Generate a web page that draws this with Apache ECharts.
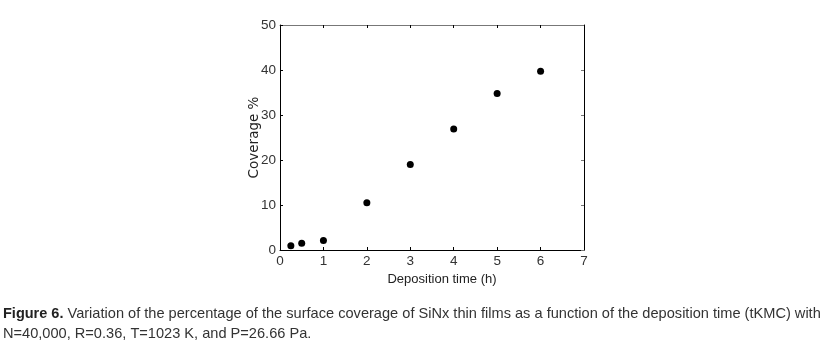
<!DOCTYPE html>
<html>
<head>
<meta charset="utf-8">
<script src="https://cdn.jsdelivr.net/npm/echarts@6/dist/echarts.min.js"></script>
<style>
html,body{margin:0;padding:0;background:#fff;}
#chart{width:827px;height:349px;}
</style>
</head>
<body>
<div id="chart"></div>
<script>
const timeHours = [0.25, 0.5, 1, 2, 3, 4, 5, 6];
const coveragePct = [0.95, 1.5, 2.1, 10.5, 19.0, 26.9, 34.8, 39.7];
const xTicks = [0, 1, 2, 3, 4, 5, 6, 7];
const yTicks = [0, 10, 20, 30, 40, 50];
const xTitle = 'Deposition time (h)';
const yTitle = 'Coverage %';
const captionBold = 'Figure 6.';
const captionLine1 = ' Variation of the percentage of the surface coverage of SiNx thin films as a function of the deposition time (tKMC) with';
const captionLine2 = 'N=40,000, R=0.36, T=1023 K, and P=26.66 Pa.';

const chart = echarts.init(document.getElementById('chart'), null, {renderer: 'canvas'});
const labelFont = {color: '#333', fontSize: 13.5, fontFamily: 'Liberation Sans, Arial'};
const xMin = xTicks[0], xMax = xTicks[xTicks.length - 1];
const yMin = yTicks[0], yMax = yTicks[yTicks.length - 1];

chart.setOption({
  animation: false,
  backgroundColor: '#fff',
  grid: {left: 280, right: 243, top: 25, bottom: 99, containLabel: false},
  xAxis: [{
    type: 'value', min: xMin, max: xMax, interval: 1, position: 'bottom',
    axisLine: {show: true, onZero: false, lineStyle: {color: '#000', width: 1}},
    axisTick: {show: true, inside: true, length: 3, lineStyle: {color: '#000'}},
    axisLabel: Object.assign({margin: 4}, labelFont),
    splitLine: {show: false},
    name: xTitle, nameLocation: 'middle', nameGap: 20,
    nameTextStyle: {color: '#222', fontSize: 13, fontFamily: 'Liberation Sans, Arial', padding: [0, 0, 0, 20]}
  }, {
    type: 'value', min: xMin, max: xMax, interval: 1, position: 'top',
    axisLine: {show: true, onZero: false, lineStyle: {color: '#777', width: 1}},
    axisTick: {show: true, inside: true, length: 3, lineStyle: {color: '#000'}},
    axisLabel: {show: false}, splitLine: {show: false}
  }],
  yAxis: [{
    type: 'value', min: yMin, max: yMax, interval: 10, position: 'left',
    axisLine: {show: true, onZero: false, lineStyle: {color: '#000', width: 1}},
    axisTick: {show: true, inside: true, length: 3, lineStyle: {color: '#000'}},
    axisLabel: Object.assign({margin: 4}, labelFont),
    splitLine: {show: false},
    name: yTitle, nameLocation: 'middle', nameGap: 19, nameMoveOverlap: false,
    nameTextStyle: {color: '#222', fontSize: 13.5, fontFamily: 'DejaVu Sans, Arial'}
  }, {
    type: 'value', min: yMin, max: yMax, interval: 10, position: 'right',
    axisLine: {show: true, onZero: false, lineStyle: {color: '#000', width: 1}},
    axisTick: {show: true, inside: true, length: 3, lineStyle: {color: '#777'}},
    axisLabel: {show: false}, splitLine: {show: false}
  }],
  series: [{
    type: 'scatter',
    xAxisIndex: 0, yAxisIndex: 0,
    data: timeHours.map((t, i) => [t, coveragePct[i]]),
    symbol: 'circle', symbolSize: 7,
    itemStyle: {color: '#000', opacity: 1}
  }],
  graphic: [{
    type: 'text', left: 3, top: 306,
    style: {
      text: '{b|' + captionBold + '}{n|' + captionLine1 + '}',
      rich: {
        b: {fontWeight: 'bold', fontSize: 14.5, fontFamily: 'Liberation Sans, Arial', fill: '#222'},
        n: {fontSize: 14.6, fontFamily: 'Liberation Sans, Arial', fill: '#333'}
      }
    }
  }, {
    type: 'text', left: 3, top: 326,
    style: {text: captionLine2, fontSize: 14.6, fontFamily: 'Liberation Sans, Arial', fill: '#333'}
  }]
});
</script>
</body>
</html>
